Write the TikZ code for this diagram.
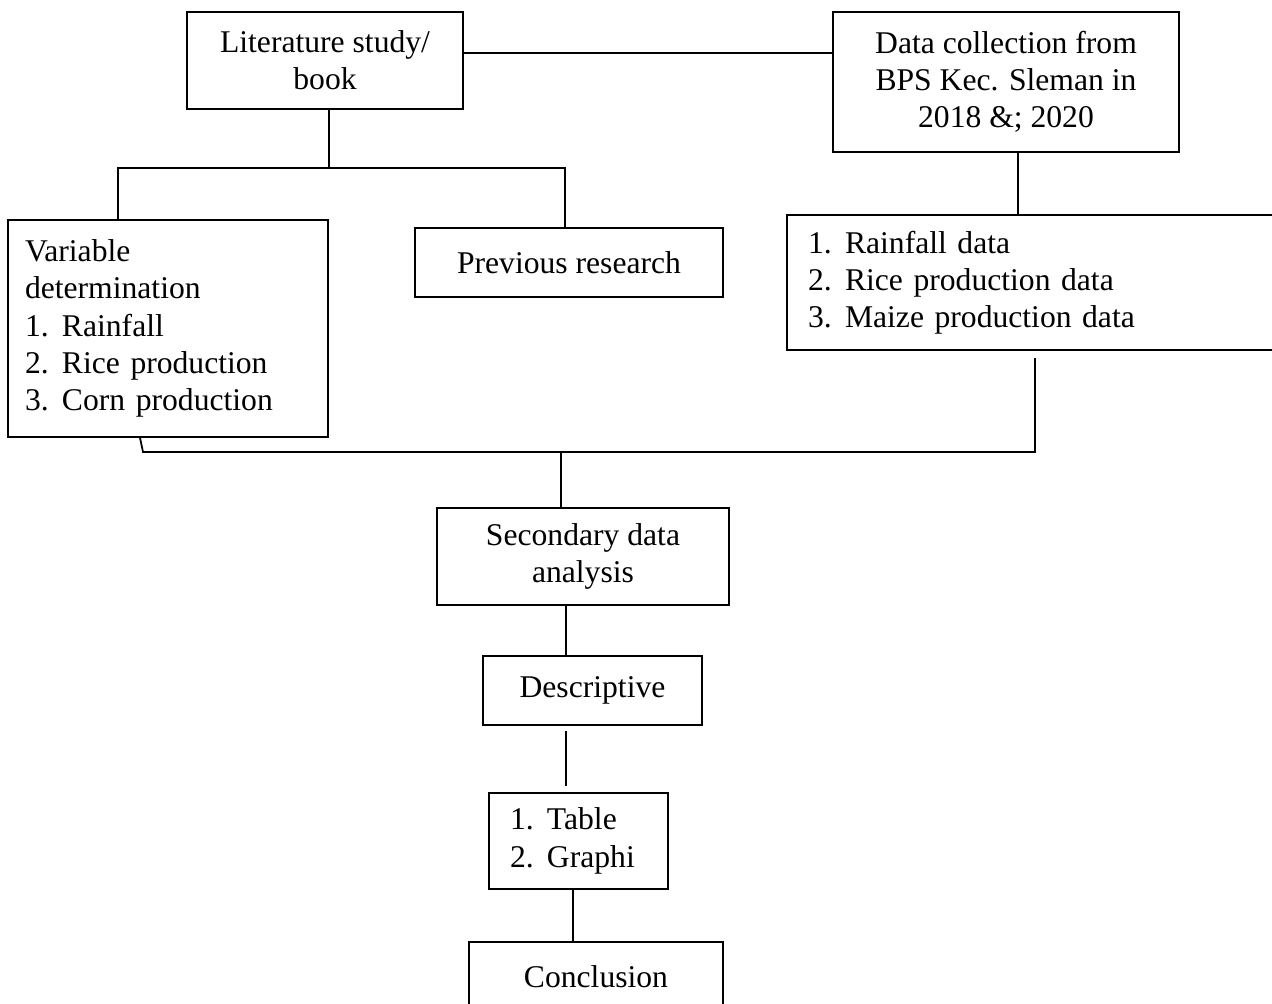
\documentclass[tikz,border=0pt]{standalone}
\usepackage{fontspec}
\setmainfont{Liberation Serif}
\newcommand{\nr}[1]{\makebox[0.74cm][l]{#1}}

\begin{document}
\begin{tikzpicture}[x=0.02cm, y=-0.02cm,
	every node/.style={font=\fontsize{18}{21.2}\selectfont},
	box/.style={draw, line width=0.75pt, inner sep=0pt, align=center},
	listbox/.style={draw, line width=0.75pt, inner ysep=0pt, align=left},
	link/.style={line width=1pt}]
			%%%%% START %%%%%
			
			\useasboundingbox (0,0) rectangle (1272,1004);
			\clip (0,0) rectangle (1272,1004);
			
			\node[box, minimum width=5.52cm, minimum height=1.94cm] (lit) at (325,60.5) {Literature study/\\book};
			\node[box, minimum width=6.92cm, minimum height=2.8cm] (data) at (1006,82) {Data collection from\\BPS Kec. Sleman in\\2018 \&; 2020};
			
			\node[listbox, inner xsep=0.34cm, text width=5.72cm, minimum height=4.34cm] (var) at (168,328.5) {Variable\\determination\\\nr{1.}Rainfall\\\nr{2.}Rice production\\\nr{3.}Corn production};
			\node[box, minimum width=6.16cm, minimum height=1.38cm] (prev) at (569,262.5) {Previous research};
			\node[listbox, inner xsep=0.42cm, text width=9.42cm, minimum height=2.7cm] (lst) at (1043.5,282.5) {\nr{1.}Rainfall data\\\nr{2.}Rice production data\\\nr{3.}Maize production data};
			
			\node[box, minimum width=5.84cm, minimum height=1.94cm] (sec) at (583,556.5) {Secondary data\\analysis};
			\node[box, minimum width=4.38cm, minimum height=1.38cm] (desc) at (592.5,690.5) {Descriptive};
			\node[listbox, inner xsep=0.42cm, text width=2.74cm, minimum height=1.92cm] (tab) at (578.5,841) {\nr{1.}Table\\\nr{2.}Graphi};
			\node[box, minimum width=5.08cm, minimum height=1.38cm] (concl) at (596,976.5) {Conclusion};
			
			% top links
			\draw[link] (lit.east |- 0,53) -- (data.west |- 0,53);
			\coordinate (split) at (329,168);
			\draw[link] (329,109) -- (split);
			\draw[link] (var.north -| 118,0) |- (split) -| (prev.north -| 565,0);
			\draw[link] (data.south -| 1018,0) -- (lst.north -| 1018,0);
			
			% joining line
			\coordinate (joinL) at (143,452);
			\coordinate (joinR) at (1035,452);
			\coordinate (lstend) at (1035,358);
			\draw[link] (var.south -| 140,0) -- (joinL) -- (joinR) -- (lstend);
			\draw[link] (561,452) -- (sec.north -| 561,0);
			
			% lower chain
			\coordinate (descend) at (566,731);
			\coordinate (tabtop) at (566,786);
			\draw[link] (sec.south -| 566,0) -- (desc.north -| 566,0);
			\draw[link] (descend) -- (tabtop);
			\draw[link] (tab.south -| 573,0) -- (concl.north -| 573,0);
			
			%%%%% END %%%%%
\end{tikzpicture}
\end{document}
